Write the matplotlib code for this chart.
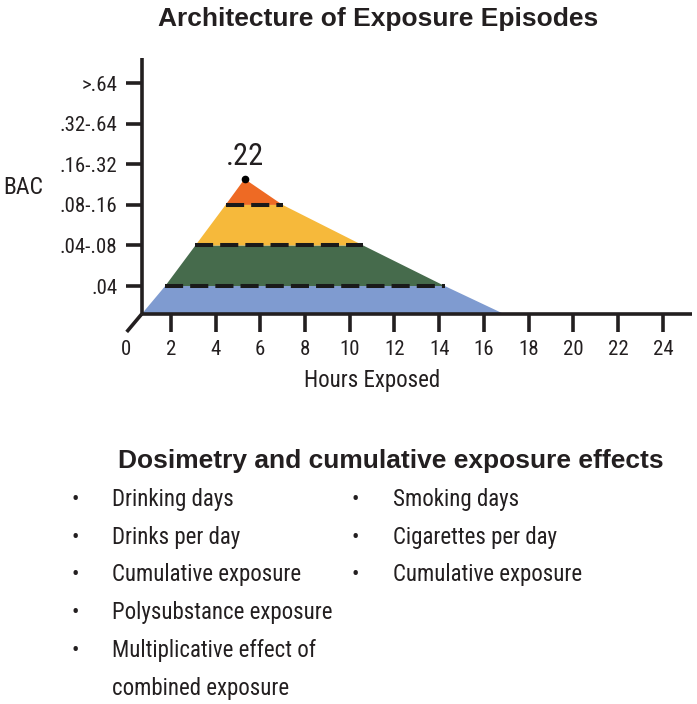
import matplotlib
matplotlib.use('Agg')
import matplotlib.pyplot as plt

# BAC bands (log-spaced categories, drawn as evenly spaced levels)
bac_labels = ['.04', '.04-.08', '.08-.16', '.16-.32', '.32-.64', '>.64']
bac_levels = [1, 2, 3, 4, 5, 6]

hour_ticks = [0, 2, 4, 6, 8, 10, 12, 14, 16, 18, 20, 22, 24]

# outline of the exposure episode: level of each band edge and the hours where
# the rising / falling sides cross it (first row is the baseline, last the peak)
edge_levels = [0.31, 1, 2, 3, 3.64]
rise_hours = [0.7, 1.75, 3.1, 4.45, 5.3]
fall_hours = [16.9, 14.25, 10.6, 7.0, 5.3]
band_colors = ['#7f9bd0', '#466b4c', '#f6b93b', '#ee6a24']

peak_hour = 5.3
peak_level = 3.64
peak_text = '.22'

left_items = ['Drinking days', 'Drinks per day', 'Cumulative exposure',
              'Polysubstance exposure', 'Multiplicative effect of', None]
left_cont = [None, None, None, None, None, 'combined exposure']
right_items = ['Smoking days', 'Cigarettes per day', 'Cumulative exposure']

ink = '#231f20'
narrow = ['Roboto Condensed', 'Liberation Sans', 'DejaVu Sans']
bold = ['Liberation Sans', 'DejaVu Sans']
lw_text = 'normal'

fig = plt.figure(figsize=(6.97, 7.04), dpi=100)
ax = fig.add_axes([0.1808, 0.5072, 0.8121, 0.4104])
ax.set_xlim(0, 25.3)
ax.set_ylim(-0.5, 6.62)

# filled bands
for i in range(len(band_colors)):
    xs = [rise_hours[i], rise_hours[i + 1], fall_hours[i + 1], fall_hours[i]]
    ys = [edge_levels[i], edge_levels[i + 1], edge_levels[i + 1], edge_levels[i]]
    ax.fill(xs, ys, color=band_colors[i], lw=0, zorder=1)

# dashed band boundaries
for i in range(1, len(edge_levels) - 1):
    ax.plot([rise_hours[i], fall_hours[i]], [edge_levels[i], edge_levels[i]],
            color='#1a1a1a', lw=2.9, linestyle=(0, (4.5, 1.75)),
            solid_capstyle='butt', dash_capstyle='butt', zorder=3)

ax.plot(peak_hour, peak_level, 'o', color='black', ms=4.5, zorder=4)
ax.annotate(peak_text, (peak_hour, peak_level), xytext=(0, 16),
            textcoords='offset points', ha='center', va='center',
            fontsize=22, family=narrow, fontweight=lw_text, color=ink)

# axes drawn as spines
for s in ['top', 'right']:
    ax.spines[s].set_visible(False)
ax.spines['left'].set_position(('data', rise_hours[0]))
ax.spines['bottom'].set_position(('data', edge_levels[0]))
ax.spines['left'].set_bounds(edge_levels[0], 6.62)
ax.spines['bottom'].set_bounds(rise_hours[0], 25.3)
for s in ['left', 'bottom']:
    ax.spines[s].set_linewidth(2.6)
    ax.spines[s].set_color(ink)
    ax.spines[s].set_capstyle('butt')

# little diagonal stub at the origin
ax.plot([rise_hours[0], 0.03], [edge_levels[0], -0.13], color=ink, lw=2.6,
        solid_capstyle='butt', clip_on=False)

ax.set_xticks(hour_ticks)
ax.set_xticklabels([str(h) for h in hour_ticks])
ax.xaxis.get_major_ticks()[0].tick1line.set_visible(False)
ax.set_yticks(bac_levels)
ax.set_yticklabels(bac_labels)
ax.tick_params(axis='x', length=13, width=2.6, color=ink, pad=6,
               labelsize=15, labelcolor=ink)
ax.tick_params(axis='y', length=11.5, width=2.6, color=ink, pad=6,
               labelsize=15, labelcolor=ink)
for lab in ax.get_xticklabels() + ax.get_yticklabels():
    lab.set_family(narrow)
    lab.set_fontweight(lw_text)

ax.set_xlabel('Hours Exposed', fontsize=16.5, family=narrow,
              fontweight=lw_text, color=ink)
ax.xaxis.set_label_coords(0.4355, -0.1146)
ax.xaxis.label.set_va('center')
ax.set_ylabel('BAC', fontsize=17, family=narrow, fontweight=lw_text,
              color=ink, rotation=0)
ax.yaxis.set_label_coords(-0.182, 0.5535)
ax.yaxis.label.set_va('center')
ax.yaxis.label.set_ha('center')

W, H = 697.0, 704.0
fig.text(158 / W, 1 - 26 / H, 'Architecture of Exposure Episodes',
         fontsize=19, fontweight='bold', family=bold, color=ink,
         ha='left', va='baseline')
fig.text(118 / W, 1 - 468 / H, 'Dosimetry and cumulative exposure effects',
         fontsize=19, fontweight='bold', family=bold, color=ink,
         ha='left', va='baseline')

row_base = 506
row_step = 37.7
for k in range(len(left_items)):
    y = 1 - (row_base + k * row_step) / H
    if left_items[k] is not None:
        fig.text(75 / W, y, '•', fontsize=16, family=narrow, color=ink,
                 ha='center', va='baseline')
        fig.text(112 / W, y, left_items[k], fontsize=16.5, family=narrow,
                 fontweight=lw_text, color=ink, ha='left', va='baseline')
    if left_cont[k] is not None:
        fig.text(112 / W, y, left_cont[k], fontsize=16.5, family=narrow,
                 fontweight=lw_text, color=ink, ha='left', va='baseline')
for k in range(len(right_items)):
    y = 1 - (row_base + k * row_step) / H
    fig.text(355 / W, y, '•', fontsize=16, family=narrow, color=ink,
             ha='center', va='baseline')
    fig.text(393 / W, y, right_items[k], fontsize=16.5, family=narrow,
             fontweight=lw_text, color=ink, ha='left', va='baseline')

fig.savefig('out.png', dpi=100)
